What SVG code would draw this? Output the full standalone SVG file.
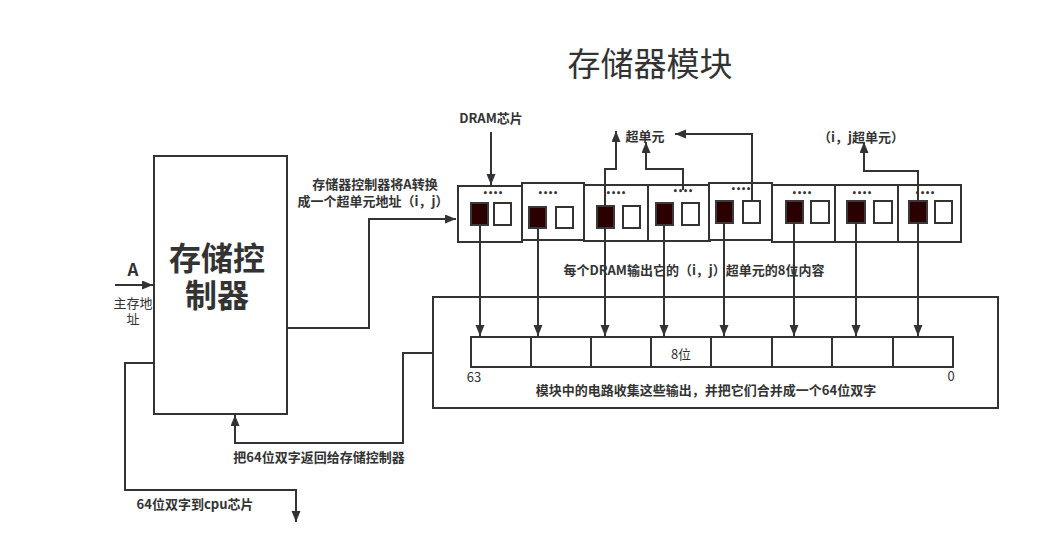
<svg xmlns="http://www.w3.org/2000/svg" width="1063" height="556" viewBox="0 0 1063 556">
<defs>
<style>
.ln{fill:none;stroke:#333;stroke-width:2}
.bx{fill:#fff;stroke:#333;stroke-width:2}
.dk{fill:#2b0000;stroke:#3a3a3a;stroke-width:2}
.wh{fill:#fff;stroke:#333;stroke-width:2}
.t{font-family:"Noto Sans CJK SC","Microsoft YaHei",sans-serif;fill:#333;font-size:13px;font-weight:bold;text-anchor:middle}
.n{font-family:"Noto Sans CJK SC","Microsoft YaHei",sans-serif;fill:#333;font-size:13px;text-anchor:middle}
.s{font-family:"Liberation Sans","Noto Sans CJK SC",sans-serif;fill:#333;text-anchor:middle}
.dots{font-family:"DejaVu Sans",sans-serif;fill:#333;font-size:8px;font-weight:bold;text-anchor:middle}
</style>
<marker id="ah" markerUnits="userSpaceOnUse" markerWidth="12" markerHeight="10" refX="11" refY="4.5" orient="auto">
<path d="M0,0 L11,4.5 L0,9 z" fill="#333"/>
</marker>
</defs>
<rect width="1063" height="556" fill="#fff"/>

<text x="650" y="76" font-family="'Noto Sans CJK SC',sans-serif" font-size="33" fill="#333" text-anchor="middle">存储器模块</text>

<g id="controller">
<rect class="bx" x="154" y="156" width="133" height="258"/>
<text class="s" x="217" y="270" font-size="32" font-weight="bold">存储控</text>
<text class="s" x="217" y="307" font-size="32" font-weight="bold">制器</text>
</g>

<g id="module">
<rect class="bx" x="433" y="297" width="565" height="111"/>
<rect class="bx" x="471" y="337" width="60" height="30"/>
<rect class="bx" x="531" y="337" width="60" height="30"/>
<rect class="bx" x="591" y="337" width="60" height="30"/>
<rect class="bx" x="651" y="337" width="60" height="30"/>
<rect class="bx" x="711" y="337" width="61" height="30"/>
<rect class="bx" x="772" y="337" width="60" height="30"/>
<rect class="bx" x="832" y="337" width="61" height="30"/>
<rect class="bx" x="893" y="337" width="60" height="30"/>
<text class="n" x="681" y="359">8位</text>
<text class="n" x="474" y="382">63</text>
<text class="n" x="951" y="381">0</text>
<text class="t" x="706" y="395">模块中的电路收集这些输出，并把它们合并成一个64位双字</text>
</g>

<g id="chip1"><rect class="bx" x="458" y="186" width="64" height="56"/><text class="dots" x="493" y="196">••••</text><rect class="dk" x="471" y="203" width="17" height="22"/><rect class="wh" x="494" y="203" width="17" height="22"/></g>
<g id="chip2"><rect class="bx" x="522" y="183" width="62" height="57"/><text class="dots" x="548" y="196">••••</text><rect class="dk" x="529" y="207" width="17" height="21"/><rect class="wh" x="556" y="207" width="17" height="21"/></g>
<g id="chip3"><rect class="bx" x="584" y="185" width="64" height="56"/><text class="dots" x="616" y="196">••••</text><rect class="dk" x="597" y="206" width="17" height="22"/><rect class="wh" x="623" y="206" width="17" height="22"/></g>
<g id="chip4"><rect class="bx" x="648" y="185" width="62" height="56"/><text class="dots" x="683" y="194">••••</text><rect class="dk" x="656" y="203" width="17" height="22"/><rect class="wh" x="682" y="203" width="17" height="22"/></g>
<g id="chip5"><rect class="bx" x="709" y="183" width="63" height="57"/><text class="dots" x="741" y="192">••••</text><rect class="dk" x="716" y="201" width="17" height="22"/><rect class="wh" x="743" y="201" width="17" height="22"/></g>
<g id="chip6"><rect class="bx" x="772" y="185" width="63" height="57"/><text class="dots" x="802" y="196">••••</text><rect class="dk" x="786" y="201" width="17" height="22"/><rect class="wh" x="811" y="201" width="18" height="22"/></g>
<g id="chip7"><rect class="bx" x="835" y="185" width="63" height="57"/><text class="dots" x="862" y="196">••••</text><rect class="dk" x="847" y="201" width="18" height="22"/><rect class="wh" x="874" y="201" width="18" height="22"/></g>
<g id="chip8"><rect class="bx" x="898" y="185" width="63" height="57"/><text class="dots" x="925" y="196">••••</text><rect class="dk" x="909" y="201" width="18" height="22"/><rect class="wh" x="935" y="201" width="17" height="22"/></g>

<g id="connectors">
<path class="ln" d="M115,285 H153" marker-end="url(#ah)"/>
<path class="ln" d="M287,328 H369 V219 H456" marker-end="url(#ah)"/>
<path class="ln" d="M491,132 V185" marker-end="url(#ah)"/>
<path class="ln" d="M605,206 V169 H616 V131" marker-end="url(#ah)"/>
<path class="ln" d="M683,190 V169 H646 V142" marker-end="url(#ah)"/>
<path class="ln" d="M752,201 V134 H675" marker-end="url(#ah)"/>
<path class="ln" d="M918,201 V171 H864 V142" marker-end="url(#ah)"/>
<path class="ln" d="M480,225 V336" marker-end="url(#ah)"/>
<path class="ln" d="M538,228 V336" marker-end="url(#ah)"/>
<path class="ln" d="M605,228 V336" marker-end="url(#ah)"/>
<path class="ln" d="M664,225 V336" marker-end="url(#ah)"/>
<path class="ln" d="M724,223 V336" marker-end="url(#ah)"/>
<path class="ln" d="M794,223 V336" marker-end="url(#ah)"/>
<path class="ln" d="M856,223 V336" marker-end="url(#ah)"/>
<path class="ln" d="M918,223 V336" marker-end="url(#ah)"/>
<path class="ln" d="M433,353 H403 V443 H235 V415" marker-end="url(#ah)"/>
<path class="ln" d="M154,363 H125 V490 H296 V522" marker-end="url(#ah)"/>
</g>

<g id="labels">
<text class="t" x="491" y="123">DRAM芯片</text>
<text class="t" x="645" y="141">超单元</text>
<text class="t" x="861" y="142">（i，j超单元）</text>
<text class="t" x="375" y="189">存储器控制器将A转换</text>
<text class="t" x="373" y="206">成一个超单元地址（i，j）</text>
<text class="t" x="694" y="275">每个DRAM输出它的（i，j）超单元的8位内容</text>
<text x="133" y="276" font-family="'Noto Sans CJK SC',sans-serif" font-size="17" font-weight="bold" fill="#333" text-anchor="middle">A</text>
<text class="s" x="133" y="308" font-size="13">主存地</text>
<text class="s" x="133" y="324" font-size="13">址</text>
<text class="t" x="319" y="462">把64位双字返回给存储控制器</text>
<text class="t" x="195" y="509">64位双字到cpu芯片</text>
</g>
</svg>
